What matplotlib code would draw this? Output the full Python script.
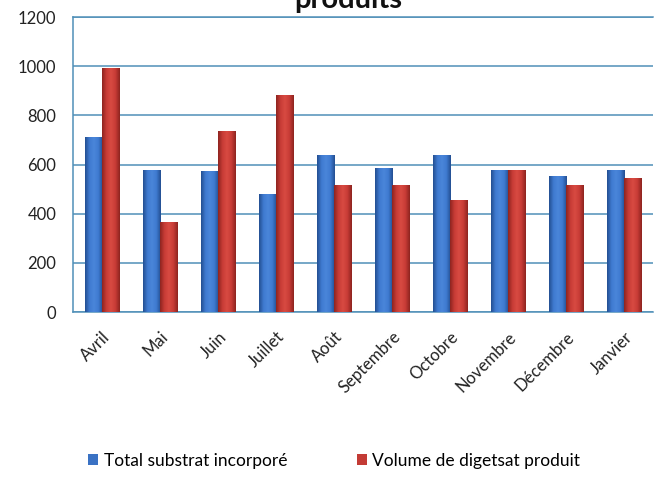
import numpy as np
import matplotlib.pyplot as plt
from matplotlib.colors import LinearSegmentedColormap

months = ['Avril', 'Mai', 'Juin', 'Juillet', 'Août', 'Septembre',
          'Octobre', 'Novembre', 'Décembre', 'Janvier']
substrat = [708, 577, 570, 479, 635, 584, 638, 577, 552, 577]
digestat = [990, 366, 733, 882, 513, 516, 455, 574, 516, 543]
series_names = ['Total substrat incorporé', 'Volume de digetsat produit']

plt.rcParams['font.family'] = ['Lato', 'DejaVu Sans']

fig = plt.figure(figsize=(6.55, 4.93), dpi=100)
ax = fig.add_axes([0.1115, 0.367, 0.886, 0.5985])

x = np.arange(len(months))
w = 0.295
grid_col = '#4f8fb8'

blue_cm = LinearSegmentedColormap.from_list('b', ['#234f92', '#3f7ad0', '#4a86da', '#3f7ad0', '#234f92'])
red_cm = LinearSegmentedColormap.from_list('r', ['#8e2420', '#c83c36', '#d84a42', '#c83c36', '#8e2420'])

b1 = ax.bar(x - w / 2, substrat, w, color='#3a72c4', label=series_names[0], zorder=3)
b2 = ax.bar(x + w / 2, digestat, w, color='#c33b35', label=series_names[1], zorder=3)

# shaded fill across each bar for a rounded look
grad = np.linspace(0, 1, 64).reshape(1, -1)
for bars, cmap in ((b1, blue_cm), (b2, red_cm)):
    for p in bars:
        x0, y0 = p.get_x(), p.get_y()
        ax.imshow(grad, cmap=cmap, aspect='auto', zorder=4,
                  extent=(x0, x0 + p.get_width(), y0, y0 + p.get_height()))

ax.set_xlim(-0.5, len(months) - 0.5)
ax.set_ylim(0, 1200)
ax.set_yticks(range(0, 1201, 200))
ax.set_xticks(x)
ax.set_xticklabels(months, rotation=45, ha='right', rotation_mode='anchor', fontsize=12)
ax.yaxis.grid(True, color=grid_col, lw=1.1, zorder=0)
ax.set_axisbelow(True)

for s in ('top', 'right'):
    ax.spines[s].set_visible(False)
for s in ('left', 'bottom'):
    ax.spines[s].set_color(grid_col)
    ax.spines[s].set_linewidth(1.1)
ax.axhline(1200, color=grid_col, lw=1.1, zorder=1, clip_on=False)

ax.tick_params(axis='both', length=0, colors='#222222')
ax.tick_params(axis='y', pad=12, labelsize=12)
ax.tick_params(axis='x', pad=12)

fig.text(0.531, 1 - 8 / 493, 'produits', ha='center', va='baseline',
         fontsize=21, fontweight='bold', color='#111111')

fig.legend(handles=[b1, b2], labels=series_names, loc='center',
           bbox_to_anchor=(0.51, 0.065), ncol=2, frameon=False, fontsize=12.5,
           handlelength=0.6, handleheight=0.6, handletextpad=0.3, columnspacing=4)

fig.savefig('out.png', dpi=100)
